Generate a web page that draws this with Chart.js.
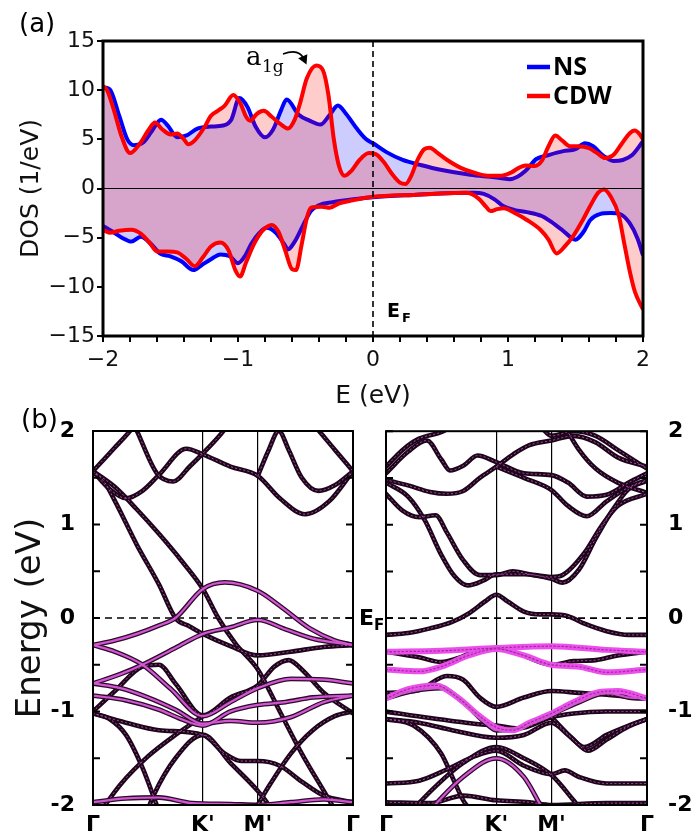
<!DOCTYPE html>
<html>
<head>
<meta charset="utf-8">
<script src="https://cdn.jsdelivr.net/npm/chart.js@4.4.1/dist/chart.umd.min.js"></script>
<style>
  html, body { margin: 0; padding: 0; background: #fff; }
  #page { position: relative; width: 694px; height: 838px; overflow: hidden; font-family: 'DejaVu Sans', sans-serif; color: #000; }
  canvas { position: absolute; }
  .tag { position: absolute; font-size: 26px; line-height: 1; }
  .ef { position: absolute; font-weight: bold; font-size: 22px; line-height: 1; }
  .ef sub { font-size: 15px; vertical-align: -5px; line-height: 0; }
</style>
</head>
<body>
<div id="page">
  <canvas id="dosChart" width="694" height="420" style="left:0;top:0"></canvas>
  <canvas id="nsBands" width="372" height="433" style="left:0;top:405px"></canvas>
  <canvas id="cdwBands" width="339" height="433" style="left:355px;top:405px"></canvas>
  <div class="tag" style="left:19px;top:10px">(a)</div>
  <div class="tag" style="left:21px;top:406px">(b)</div>
  <div class="ef" style="left:359px;top:607px">E<sub>F</sub></div>
</div>
<script>
/* ── (a) density of states, spin up (>0) and down (<0) ─────────── */
const nsUpE   = [-2, -1.95, -1.88, -1.82, -1.77, -1.7, -1.64, -1.57, -1.52, -1.45, -1.38, -1.3, -1.2, -1.11, -1.05, -0.99, -0.93, -0.87, -0.8, -0.74, -0.68, -0.64, -0.55, -0.47, -0.39, -0.32, -0.26, -0.2, -0.12, -0.05, 0, 0.1, 0.22, 0.35, 0.5, 0.72, 0.9, 1.01, 1.07, 1.13, 1.21, 1.3, 1.41, 1.5, 1.57, 1.63, 1.7, 1.78, 1.85, 1.92, 2];
const nsUpDOS = [10.3, 10.1, 7.4, 5.0, 4.4, 4.7, 5.8, 7.0, 6.4, 5.2, 5.4, 6.1, 6.3, 6.4, 7.0, 9.2, 8.3, 6.3, 5.2, 6.0, 8.0, 9.05, 7.5, 6.9, 6.5, 7.5, 8.45, 7.6, 6.1, 5.0, 4.6, 3.7, 2.9, 2.4, 1.9, 1.4, 1.15, 0.95, 1.2, 1.8, 3.0, 3.4, 3.8, 4.0, 4.6, 4.3, 3.4, 2.8, 2.9, 3.4, 4.8];
const cdwUpE   = [-2, -1.97, -1.92, -1.86, -1.8, -1.73, -1.66, -1.615, -1.56, -1.5, -1.45, -1.4, -1.37, -1.32, -1.25, -1.2, -1.15, -1.1, -1.035, -0.98, -0.94, -0.91, -0.86, -0.81, -0.75, -0.68, -0.63, -0.58, -0.54, -0.49, -0.42, -0.37, -0.33, -0.29, -0.25, -0.21, -0.16, -0.1, -0.03, 0.02, 0.08, 0.14, 0.2, 0.24, 0.28, 0.33, 0.38, 0.42, 0.48, 0.55, 0.65, 0.75, 0.85, 0.95, 1.02, 1.08, 1.13, 1.2, 1.25, 1.3, 1.35, 1.4, 1.46, 1.52, 1.6, 1.66, 1.72, 1.78, 1.84, 1.9, 1.94, 1.97, 2];
const cdwUpDOS = [10.4, 10.0, 8.0, 5.2, 3.6, 4.5, 6.0, 6.7, 6.0, 5.5, 5.6, 5.0, 4.5, 4.9, 6.2, 7.4, 7.9, 8.4, 9.5, 8.6, 7.3, 6.9, 7.6, 7.9, 7.3, 6.5, 6.1, 7.0, 8.7, 11.2, 12.5, 12.0, 9.5, 5.0, 2.2, 1.3, 1.8, 2.9, 3.6, 3.5, 2.7, 1.5, 0.6, 0.45, 1.2, 2.9, 4.0, 4.15, 3.6, 2.9, 2.1, 1.6, 1.3, 1.3, 1.6, 2.1, 2.35, 2.3, 2.8, 4.3, 5.4, 4.9, 4.3, 4.3, 4.1, 3.6, 3.1, 3.4, 4.5, 5.6, 5.9, 5.6, 5.0];
const nsDownE   = [-2, -1.94, -1.86, -1.79, -1.72, -1.64, -1.58, -1.5, -1.42, -1.33, -1.27, -1.2, -1.13, -1.06, -1.0, -0.95, -0.9, -0.84, -0.79, -0.72, -0.66, -0.63, -0.58, -0.52, -0.46, -0.4, -0.3, -0.2, 0, 0.3, 0.6, 0.75, 0.82, 0.9, 0.96, 1.05, 1.14, 1.25, 1.31, 1.4, 1.5, 1.56, 1.61, 1.68, 1.76, 1.83, 1.9, 1.96, 2];
const nsDownDOS = [-3.8, -4.3, -5.0, -5.4, -4.9, -5.7, -6.6, -6.9, -7.4, -8.3, -7.8, -7.2, -6.7, -6.9, -7.6, -6.9, -5.6, -4.5, -4.0, -4.5, -5.6, -6.2, -5.4, -3.8, -2.3, -1.7, -1.4, -1.2, -0.9, -0.65, -0.45, -0.42, -0.55, -1.1, -1.75, -2.2, -2.4, -2.8, -3.3, -4.2, -5.2, -4.4, -3.2, -2.6, -2.5, -2.6, -3.5, -5.1, -6.8];
const cdwDownE   = [-2, -1.95, -1.88, -1.79, -1.72, -1.65, -1.6, -1.52, -1.45, -1.38, -1.32, -1.26, -1.2, -1.13, -1.07, -1.02, -0.985, -0.94, -0.88, -0.82, -0.75, -0.7, -0.65, -0.6, -0.57, -0.53, -0.49, -0.46, -0.38, -0.32, -0.25, -0.15, 0, 0.3, 0.6, 0.69, 0.78, 0.84, 0.87, 0.92, 0.97, 1.05, 1.14, 1.24, 1.3, 1.36, 1.42, 1.48, 1.55, 1.62, 1.67, 1.71, 1.76, 1.82, 1.86, 1.9, 1.94, 2];
const cdwDownDOS = [-4.2, -4.5, -4.3, -4.2, -4.6, -5.6, -6.4, -6.4, -6.5, -7.2, -7.9, -7.0, -5.9, -5.5, -6.3, -8.3, -8.95, -7.5, -5.6, -4.3, -3.7, -4.4, -6.3, -8.2, -8.3, -5.8, -3.0, -1.95, -1.85, -1.95, -1.5, -1.2, -0.85, -0.65, -0.47, -0.44, -1.0, -1.9, -2.3, -2.1, -2.0, -2.5, -3.2, -4.2, -5.2, -6.6, -5.9, -4.9, -3.3, -1.5, -0.4, -0.1, -0.8, -2.7, -5.5, -8.3, -10.5, -12.3];
const dosTicksE = [-2, -1, 0, 1, 2];

/* ── (b) band structures, [k, E] pairs; Γ = 0, K' = 1, M' = 1.5, Γ = 2.366 ── */
const kPoints = [0, 1, 1.5, 2.366];
const kLabels = ['Γ', "K'", "M'", 'Γ'];

const nsDark = [
  [[0, 1.57], [0.18, 1.8], [0.37, 2.05], [0.45, 2.2]],
  [[1.9, 2.2], [2.02, 2.05], [2.2, 1.8], [2.366, 1.57]],
  [[0, 1.57], [0.15, 1.38], [0.3, 1.28], [0.45, 1.36], [0.6, 1.53], [0.85, 1.81], [1.0, 1.75], [1.25, 1.62], [1.5, 1.52], [1.7, 1.28], [1.93, 1.11], [2.15, 1.25], [2.366, 1.57]],
  [[0.3, 2.25], [0.4, 2.0], [0.58, 1.55], [0.73, 1.46], [0.88, 1.62], [1.0, 1.76], [1.2, 2.02], [1.3, 2.2]],
  [[1.5, 1.52], [1.6, 1.8], [1.69, 2.0], [1.78, 1.8], [1.9, 1.5], [2.05, 1.36], [2.2, 1.42], [2.366, 1.57]],
  [[0, 1.57], [0.1, 1.46], [0.2, 1.25], [0.4, 0.78], [0.6, 0.36], [0.75, 0.0], [0.88, -0.09], [1.0, -0.17], [1.25, -0.3], [1.5, -0.4], [1.8, -0.36], [2.1, -0.31], [2.366, -0.29]],
  [[0, 1.57], [0.2, 1.4], [0.4, 1.16], [0.6, 0.9], [0.8, 0.62], [1.0, 0.31], [1.14, 0.0], [1.3, -0.28], [1.5, -0.55], [1.7, -1.0], [1.9, -1.45], [2.1, -1.85], [2.2, -2.05]],
  [[0, -1.0], [0.2, -0.78], [0.45, -0.52], [0.6, -0.5], [0.75, -0.7], [1.0, -1.04], [1.25, -0.85], [1.5, -0.72], [1.65, -0.52], [1.78, -0.45], [1.9, -0.55], [2.1, -0.8], [2.366, -1.02]],
  [[0, -1.02], [0.15, -1.08], [0.3, -1.25], [0.45, -1.6], [0.58, -2.0], [0.65, -2.2]],
  [[0, -1.02], [0.3, -1.12], [0.6, -1.2], [1.0, -1.25], [1.2, -1.45], [1.35, -1.53], [1.5, -1.53], [1.7, -1.58], [1.9, -1.75], [2.1, -1.9], [2.366, -1.97]],
  [[0.05, -2.1], [0.25, -1.78], [0.5, -1.48], [0.75, -1.25], [1.0, -1.05]],
  [[0.45, -2.2], [0.55, -1.9], [0.75, -1.5], [1.0, -1.25], [1.25, -1.55], [1.5, -1.85], [1.6, -2.0], [1.7, -2.2]],
  [[1.45, -2.1], [1.6, -1.8], [1.8, -1.45], [2.0, -1.2], [2.2, -1.05], [2.366, -1.0]]
];
const nsPink = [
  [[0, -0.29], [0.2, -0.24], [0.4, -0.17], [0.6, -0.08], [0.75, 0], [1.0, 0.31], [1.2, 0.38], [1.5, 0.29], [1.7, 0.13], [1.97, -0.11], [2.2, -0.24], [2.366, -0.29]],
  [[0, -0.7], [0.25, -0.6], [0.45, -0.5], [0.75, -0.32], [1.0, -0.17], [1.25, -0.1], [1.5, -0.02], [1.75, -0.12], [2.0, -0.22], [2.366, -0.29]],
  [[0, -0.29], [0.2, -0.36], [0.45, -0.5], [0.7, -0.75], [1.0, -1.05], [1.25, -0.9], [1.5, -0.75], [1.8, -0.65], [2.1, -0.66], [2.366, -0.7]],
  [[0, -0.7], [0.25, -0.75], [0.5, -0.85], [0.75, -0.98], [1.0, -1.13], [1.25, -1.1], [1.5, -1.12], [1.8, -1.06], [2.1, -0.9], [2.366, -0.83]],
  [[0, -0.83], [0.3, -0.88], [0.6, -0.98], [0.8, -1.08], [1.0, -1.15], [1.25, -1.0], [1.5, -0.93], [1.75, -0.9], [2.0, -0.85], [2.366, -0.83]],
  [[0, -1.97], [0.3, -1.93], [0.6, -1.92], [0.9, -1.98], [1.25, -1.99], [1.5, -2.0], [1.8, -1.97], [2.1, -1.94], [2.366, -1.97]]
];
const nsBright = [];

const cdwDark = [
  [[0, -0.18], [0.2, -0.16], [0.4, -0.11], [0.6, -0.04], [0.75, 0.05], [0.9, 0.18], [1.0, 0.25], [1.1, 0.18], [1.25, 0.07], [1.4, 0.04], [1.5, 0.04], [1.65, 0.02], [1.8, -0.06], [2.0, -0.14], [2.2, -0.18], [2.366, -0.18]],
  [[0, 1.33], [0.15, 1.15], [0.3, 1.08], [0.45, 1.1], [0.55, 0.92], [0.7, 0.62], [0.85, 0.46], [1.0, 0.46], [1.15, 0.5], [1.3, 0.47], [1.5, 0.44], [1.6, 0.46], [1.8, 0.7], [1.95, 0.98], [2.1, 1.2], [2.366, 1.33]],
  [[0, 1.45], [0.2, 1.3], [0.35, 1.05], [0.5, 0.68], [0.62, 0.45], [0.74, 0.35], [0.88, 0.4], [1.0, 0.47], [1.25, 0.47], [1.5, 0.42], [1.6, 0.38], [1.75, 0.52], [1.9, 0.85], [2.05, 1.15], [2.2, 1.38], [2.366, 1.47]],
  [[0, 1.62], [0.15, 1.8], [0.3, 1.92], [0.5, 1.99], [0.6, 2.05]],
  [[0, 1.55], [0.2, 1.78], [0.37, 1.9], [0.5, 1.7], [0.58, 1.58], [0.7, 1.63], [0.83, 1.74], [1.0, 1.67], [1.25, 1.55], [1.5, 1.53], [1.65, 1.45], [1.82, 1.3], [2.0, 1.32], [2.2, 1.45], [2.366, 1.55]],
  [[0, 1.48], [0.2, 1.42], [0.4, 1.35], [0.55, 1.33], [0.7, 1.36], [0.85, 1.5], [1.0, 1.62], [1.15, 1.75], [1.3, 1.85], [1.5, 1.9], [1.7, 1.95], [1.9, 1.88], [2.1, 1.72], [2.366, 1.62]],
  [[1.0, 1.62], [1.25, 1.5], [1.5, 1.37], [1.65, 1.2], [1.82, 1.09], [2.0, 1.25], [2.2, 1.4], [2.366, 1.48]],
  [[1.4, 2.05], [1.5, 1.95], [1.7, 2.0], [1.9, 1.95], [2.1, 1.8], [2.366, 1.6]],
  [[1.62, 2.05], [1.75, 1.8], [1.9, 1.6], [2.1, 1.45], [2.366, 1.34]],
  [[0, -0.8], [0.3, -0.77], [0.55, -0.62], [0.7, -0.66], [0.85, -0.85], [1.0, -0.95], [1.25, -0.85], [1.5, -0.78], [1.75, -0.8], [2.0, -0.82], [2.366, -0.86]],
  [[0, -0.36], [0.3, -0.42], [0.5, -0.47], [0.65, -0.43], [0.8, -0.36], [1.0, -0.32], [1.2, -0.38], [1.5, -0.5], [1.7, -0.46], [1.9, -0.45], [2.1, -0.4], [2.366, -0.36]],
  [[0, -1.0], [0.4, -1.07], [0.8, -1.13], [1.0, -1.15], [1.2, -1.18], [1.5, -1.06], [1.7, -1.02], [2.0, -1.0], [2.366, -1.0]],
  [[0, -1.08], [0.25, -1.15], [0.5, -1.45], [0.62, -1.75], [0.7, -1.95], [0.8, -2.1]],
  [[0, -1.08], [0.3, -1.12], [0.6, -1.2], [1.0, -1.28], [1.25, -1.25], [1.5, -1.12], [1.65, -1.25], [1.8, -1.38], [2.0, -1.25], [2.2, -1.15], [2.366, -1.08]],
  [[1.5, -1.06], [1.7, -1.3], [1.83, -1.42], [2.0, -1.3], [2.2, -1.16], [2.366, -1.08]],
  [[0, -1.77], [0.3, -1.74], [0.55, -1.62], [0.8, -1.48], [1.0, -1.42], [1.25, -1.58], [1.5, -1.67], [1.62, -1.63], [1.75, -1.7], [2.0, -1.77], [2.366, -1.77]],
  [[0.2, -2.1], [0.45, -1.8], [0.7, -1.55], [1.0, -1.38], [1.25, -1.5], [1.5, -1.68], [1.7, -1.95], [1.8, -2.1]],
  [[0, -1.97], [0.4, -1.98], [0.7, -1.9], [1.0, -1.95], [1.3, -1.97], [1.5, -2.0], [2.0, -1.98], [2.366, -1.98]]
];
const cdwPink = [
  [[0, -0.86], [0.25, -0.78], [0.5, -0.75], [0.7, -0.9], [0.9, -1.12], [1.0, -1.2], [1.2, -1.18], [1.4, -1.08], [1.5, -1.03], [1.75, -0.9], [2.0, -0.8], [2.2, -0.85], [2.366, -0.86]],
  [[0.4, -2.05], [0.7, -1.7], [1.0, -1.5], [1.25, -1.7], [1.4, -2.0]]
];
const cdwBright = [
  [[0, -0.36], [0.5, -0.35], [1.0, -0.32], [1.5, -0.3], [2.0, -0.34], [2.366, -0.36]],
  [[0, -0.55], [0.3, -0.57], [0.5, -0.52], [0.75, -0.4], [1.0, -0.33], [1.25, -0.4], [1.5, -0.5], [1.75, -0.52], [2.0, -0.58], [2.366, -0.55]],
  [[0, -0.86], [0.2, -0.76], [0.45, -0.72], [0.65, -0.85], [0.85, -1.05], [1.0, -1.17], [1.15, -1.2], [1.3, -1.12], [1.5, -1.02], [1.7, -0.9], [1.9, -0.8], [2.1, -0.78], [2.366, -0.86]]
];

const FONT = 'DejaVu Sans';
const xy = (xs, ys) => xs.map((v, i) => ({ x: v, y: ys[i] }));
const minusSign = v => (v < 0 ? '\u2212' + Math.abs(v) : String(v));

/* ── DOS panel decorations: zero line, E_F, frame, legend, a1g ── */
const dosDecor = {
    id: 'dosDecor',
    afterDatasetsDraw(chart) {
        const { ctx, chartArea: a, scales: { x, y } } = chart;
        ctx.save();
        ctx.strokeStyle = '#000';
        ctx.lineWidth = 1.2;
        const y0 = y.getPixelForValue(0);
        ctx.beginPath(); ctx.moveTo(a.left, y0); ctx.lineTo(a.right, y0); ctx.stroke();

        const x0 = x.getPixelForValue(0);
        ctx.setLineDash([6, 4]);
        ctx.lineWidth = 1.6;
        ctx.beginPath(); ctx.moveTo(x0, a.top); ctx.lineTo(x0, a.bottom); ctx.stroke();
        ctx.setLineDash([]);

        ctx.lineWidth = 3;
        ctx.strokeRect(a.left, a.top, a.right - a.left, a.bottom - a.top);

        // legend (one entry per label)
        const seen = [];
        chart.data.datasets.forEach(ds => {
            if (seen.find(s => s.label === ds.label)) return;
            seen.push(ds);
        });
        seen.reverse().forEach((ds, i) => {
            const ly = 67 + i * 29;
            ctx.strokeStyle = ds.borderColor;
            ctx.lineWidth = 4.5;
            ctx.beginPath(); ctx.moveTo(527, ly); ctx.lineTo(550, ly); ctx.stroke();
            ctx.fillStyle = '#000';
            ctx.font = 'bold 25px "Open Sans"';
            ctx.textBaseline = 'middle';
            ctx.fillText(ds.label, 553, ly + 1);
        });

        // a1g annotation with curved arrow
        ctx.fillStyle = '#000';
        ctx.textBaseline = 'alphabetic';
        ctx.font = '26px "DejaVu Serif"';
        ctx.fillText('a', 246, 65);
        ctx.font = '17px "DejaVu Serif"';
        ctx.fillText('1g', 262, 72);
        ctx.strokeStyle = '#000';
        ctx.lineWidth = 1.6;
        const sx = 283, sy = 54, cx = 299, cy = 48, ex = 304, ey = 59;
        ctx.beginPath(); ctx.moveTo(sx, sy); ctx.quadraticCurveTo(cx, cy, ex, ey); ctx.stroke();
        const ang = Math.atan2(ey - cy, ex - cx);
        const tx = ex + 6 * Math.cos(ang), ty = ey + 6 * Math.sin(ang);
        ctx.beginPath();
        ctx.moveTo(tx, ty);
        ctx.lineTo(ex - 3 * Math.cos(ang) + 5 * Math.sin(ang), ey - 3 * Math.sin(ang) - 5 * Math.cos(ang));
        ctx.lineTo(ex - 3 * Math.cos(ang) - 5 * Math.sin(ang), ey - 3 * Math.sin(ang) + 5 * Math.cos(ang));
        ctx.closePath(); ctx.fill();

        // Fermi level label
        ctx.font = 'bold 19px ' + FONT;
        ctx.fillText('E', 387, 317);
        ctx.font = 'bold 13px ' + FONT;
        ctx.fillText('F', 402, 322);
        ctx.restore();
    }
};

const lineStyle = (label, data, color, fill) => ({
    label, data,
    borderColor: color,
    backgroundColor: fill,
    borderWidth: 4,
    fill: 'origin',
    pointRadius: 0,
    cubicInterpolationMode: 'monotone',
    borderJoinStyle: 'round'
});

new Chart(document.getElementById('dosChart'), {
    type: 'line',
    data: {
        datasets: [
            lineStyle('CDW', xy(cdwUpE, cdwUpDOS), '#ff0000', 'rgba(255,0,0,0.2)'),
            lineStyle('CDW', xy(cdwDownE, cdwDownDOS), '#ff0000', 'rgba(255,0,0,0.2)'),
            lineStyle('NS', xy(nsUpE, nsUpDOS), '#0000ff', 'rgba(0,0,255,0.2)'),
            lineStyle('NS', xy(nsDownE, nsDownDOS), '#0000ff', 'rgba(0,0,255,0.2)')
        ]
    },
    options: {
        responsive: false,
        animation: false,
        events: [],
        layout: { padding: { top: 41, right: 51, left: 0, bottom: 0 } },
        plugins: {
            legend: { display: false },
            tooltip: { enabled: false },
            filler: { drawTime: 'beforeDatasetDraw' }
        },
        scales: {
            x: {
                type: 'linear', min: -2, max: 2,
                afterFit: s => { s.height = 84; },
                ticks: {
                    stepSize: 0.2, padding: 5, color: '#111',
                    autoSkip: false, maxRotation: 0, minRotation: 0,
                    font: { family: FONT, size: 22 },
                    callback: v => (Math.abs(v - Math.round(v)) < 1e-6 && dosTicksE.includes(Math.round(v)) ? minusSign(Math.round(v)) : '')
                },
                grid: { drawOnChartArea: false, tickLength: 6, lineWidth: 2, color: '#000' },
                border: { display: false },
                title: { display: true, text: 'E (eV)', color: '#111', font: { family: FONT, size: 25 }, padding: { top: 0, bottom: 9 } }
            },
            y: {
                min: -15, max: 15,
                afterFit: s => { s.width = 103; },
                ticks: {
                    stepSize: 2.5, padding: 2, color: '#111',
                    font: { family: FONT, size: 22 },
                    callback: v => (v % 5 === 0 ? minusSign(v) : '')
                },
                grid: { drawOnChartArea: false, tickLength: 6, lineWidth: 2, color: '#000' },
                border: { display: false },
                title: { display: true, text: 'DOS (1/eV)', color: '#111', font: { family: FONT, size: 25 }, padding: { top: 16, bottom: 0 } }
            }
        }
    },
    plugins: [dosDecor]
});

/* ── band structure panels ─────────────────────────────── */
const bandDecor = {
    id: 'bandDecor',
    beforeDatasetsDraw(chart) {
        const { ctx, chartArea: a, scales: { y } } = chart;
        const y0 = y.getPixelForValue(0);
        ctx.save();
        ctx.strokeStyle = '#000';
        ctx.lineWidth = 1.6;
        ctx.setLineDash([7, 5]);
        ctx.beginPath(); ctx.moveTo(a.left, y0); ctx.lineTo(a.right, y0); ctx.stroke();
        ctx.restore();
    },
    afterDatasetsDraw(chart) {
        const { ctx, chartArea: a, scales: { y } } = chart;
        ctx.save();
        ctx.strokeStyle = '#000';
        ctx.lineWidth = 2;
        ctx.strokeRect(a.left, a.top, a.right - a.left, a.bottom - a.top);
        y.ticks.forEach(t => {
            const py = y.getPixelForValue(t.value);
            ctx.beginPath();
            ctx.moveTo(a.left, py); ctx.lineTo(a.left + 7, py);
            ctx.moveTo(a.right - 7, py); ctx.lineTo(a.right, py);
            ctx.stroke();
        });
        ctx.restore();
    }
};

function bandDatasets(dark, pink, bright) {
    const base = { pointRadius: 0, fill: false, cubicInterpolationMode: 'monotone', borderJoinStyle: 'round', borderCapStyle: 'round' };
    const sets = [];
    dark.forEach(b => {
        const data = b.map(p => ({ x: p[0], y: p[1] }));
        sets.push({ ...base, data, borderColor: '#1c0719', borderWidth: 4.6, order: 5 });
        sets.push({ ...base, data, borderColor: '#b848b8', borderWidth: 1, borderDash: [1.2, 3], order: 1 });
    });
    pink.forEach(b => {
        const data = b.map(p => ({ x: p[0], y: p[1] }));
        sets.push({ ...base, data, borderColor: '#2e0a2b', borderWidth: 4.8, order: 4 });
        sets.push({ ...base, data, borderColor: '#d257d2', borderWidth: 2.2, order: 1 });
    });
    bright.forEach(b => {
        const data = b.map(p => ({ x: p[0], y: p[1] }));
        sets.push({ ...base, data, borderColor: '#ec4eec', borderWidth: 6, order: 3 });
        sets.push({ ...base, data, borderColor: '#a02aa0', borderWidth: 1.2, borderDash: [1.5, 2.5], order: 0 });
    });
    return sets;
}

function bandOptions(side, padding, withTitle) {
    return {
        responsive: false,
        animation: false,
        events: [],
        layout: { padding },
        plugins: { legend: { display: false }, tooltip: { enabled: false } },
        scales: {
            x: {
                type: 'linear', min: 0, max: 2.366,
                afterBuildTicks: s => { s.ticks = kPoints.map(v => ({ value: v })); },
                afterFit: s => { s.height = 33; },
                ticks: {
                    autoSkip: false, maxRotation: 0, padding: 7, color: '#000',
                    font: { family: FONT, size: 22, weight: 'bold' },
                    callback: (v, i) => kLabels[i]
                },
                grid: { color: '#000', lineWidth: 1.2, drawTicks: false },
                border: { display: false }
            },
            y: {
                position: side, min: -2, max: 2,
                afterFit: s => { s.width = side === 'left' ? 93 : 47; },
                ticks: {
                    stepSize: 0.5, padding: side === 'left' ? 10 : 13, color: '#000',
                    font: { family: FONT, size: 22, weight: 'bold' },
                    callback: v => (Number.isInteger(v) ? String(v) : '')
                },
                grid: { display: false },
                border: { display: false },
                title: {
                    display: withTitle, text: 'Energy (eV)', color: '#111',
                    font: { family: FONT, size: 34 }, padding: { top: 11, bottom: 0 }
                }
            }
        }
    };
}

new Chart(document.getElementById('nsBands'), {
    type: 'line',
    data: { datasets: bandDatasets(nsDark, nsPink, nsBright) },
    options: bandOptions('left', { top: 26, right: 19, left: 0, bottom: 0 }, true),
    plugins: [bandDecor]
});

new Chart(document.getElementById('cdwBands'), {
    type: 'line',
    data: { datasets: bandDatasets(cdwDark, cdwPink, cdwBright) },
    options: bandOptions('right', { top: 26, right: 0, left: 31, bottom: 0 }, false),
    plugins: [bandDecor]
});
</script>
</body>
</html>
